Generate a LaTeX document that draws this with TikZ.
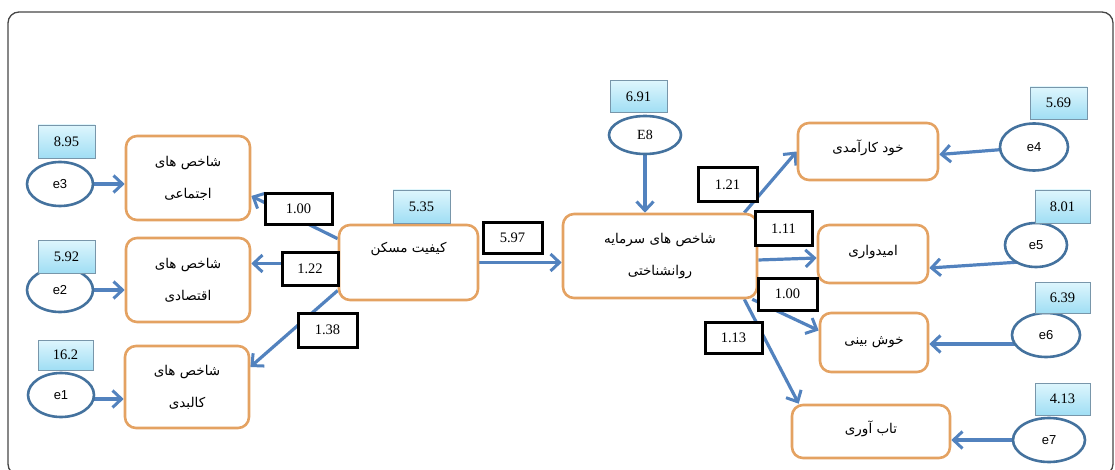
\documentclass[tikz,border=0pt]{standalone}
\usepackage{fontspec}
\setmainfont{Liberation Serif}
\newfontfamily\fa[Script=Arabic]{DejaVu Sans}
\newfontfamily\lsans{Liberation Sans}
\TeXXeTstate=1
\usetikzlibrary{arrows.meta,shapes.geometric,backgrounds}
\definecolor{boxorange}{RGB}{228,162,98}
\definecolor{arrblue}{RGB}{82,130,190}
\definecolor{ellblue}{RGB}{68,114,158}
\definecolor{tagtop}{RGB}{222,246,253}
\definecolor{tagbot}{RGB}{160,222,244}
\definecolor{tagline}{RGB}{120,150,170}
\definecolor{framegray}{RGB}{70,70,70}
\newcommand\fatext[1]{\beginR #1\endR}
\begin{document}
\begin{tikzpicture}[x=1pt,y=-1pt,
  obox/.style={draw=boxorange,line width=2.6pt,rounded corners=11pt,fill=white,
    align=center,inner sep=2pt,font=\fa\fontsize{13.5}{32}\selectfont},
  errell/.style={ellipse,draw=ellblue,line width=2.6pt,fill=white,inner sep=0pt,
    font=\lsans\fontsize{13}{15}\selectfont},
  tagbox/.style={draw=tagline,line width=0.8pt,top color=tagtop,bottom color=tagbot,
    inner sep=0pt,minimum width=57pt,minimum height=32pt,
    font=\fontsize{14.5}{16}\selectfont},
  coef/.style={draw=black,line width=3pt,fill=white,inner sep=0pt,
    minimum height=31pt,font=\fontsize{14.5}{16}\selectfont},
  arr/.style={draw=arrblue,line width=3.2pt,-{Straight Barb[length=9pt,width=17pt,line width=3pt]}}
]
\useasboundingbox (0,0) rectangle (1115,470);
\begin{scope}
\clip (0,0) rectangle (1115,470);
\draw[framegray,line width=1.3pt,rounded corners=11pt] (8,12) rectangle (1113,475);
\end{scope}

% left boxes
\node[obox,minimum width=124pt,minimum height=84pt] (b3) at (188,178) {\fatext{شاخص های}\\\fatext{اجتماعی}};
\node[obox,minimum width=124pt,minimum height=84pt] (b2) at (188,280) {\fatext{شاخص های}\\\fatext{اقتصادی}};
\node[obox,minimum width=124pt,minimum height=82pt] (b1) at (187,387) {\fatext{شاخص های}\\\fatext{کالبدی}};
% central boxes
\node[obox,minimum width=139pt,minimum height=75pt,text depth=30pt] (q) at (408.5,262.5) {\fatext{کیفیت مسکن}};
\node[obox,minimum width=194pt,minimum height=84pt] (m) at (660,256) {\fatext{شاخص های سرمایه}\\\fatext{روانشناختی}};
% right boxes
\node[obox,minimum width=140pt,minimum height=57pt,text depth=10pt] (r4) at (868,151.5) {\fatext{خود کارآمدی}};
\node[obox,minimum width=110pt,minimum height=58pt,text depth=8pt] (r5) at (873,254) {\fatext{امیدواری}};
\node[obox,minimum width=108pt,minimum height=59pt] (r6) at (874,342.5) {\fatext{خوش بینی}};
\node[obox,minimum width=158pt,minimum height=53pt,text depth=8pt] (r7) at (871,431.5) {\fatext{تاب آوری}};

% error ellipses
\node[errell,minimum width=66pt,minimum height=44pt] (e3) at (60,184) {e3};
\node[errell,minimum width=66pt,minimum height=44pt] (e2) at (60,290) {e2};
\node[errell,minimum width=66pt,minimum height=44pt] (e1) at (61,395) {e1};
\node[errell,minimum width=72pt,minimum height=38pt,font=\fontsize{14}{16}\selectfont] (E8) at (645,135) {E8};
\node[errell,minimum width=68pt,minimum height=47pt] (e4) at (1034,147) {e4};
\node[errell,minimum width=62pt,minimum height=44pt] (e5) at (1036,245) {e5};
\node[errell,minimum width=68pt,minimum height=44pt] (e6) at (1046,335) {e6};
\node[errell,minimum width=72pt,minimum height=44pt] (e7) at (1049,440) {e7};

% variance tags
\node[tagbox,minimum height=33pt] (t3) at (66.5,141.5) {8.95};
\node[tagbox,minimum height=33pt] (t2) at (66.5,256.5) {5.92};
\node[tagbox,minimum width=55pt,minimum height=30pt] (t1) at (65.5,355) {16.2};
\node[tagbox,minimum height=33pt] (tq) at (421.5,206.5) {5.35};
\node[tagbox] (tE) at (638.5,96.5) {6.91};
\node[tagbox] (t4) at (1058.5,103) {5.69};
\node[tagbox,minimum width=55pt,minimum height=33pt] (t5) at (1062.5,206.5) {8.01};
\node[tagbox,minimum width=55pt,minimum height=31pt] (t6) at (1062.5,297.5) {6.39};
\node[tagbox,minimum width=55pt] (t7) at (1062.5,399) {4.13};

% arrows
\begin{pgfonlayer}{background}
\draw[arr] (e3.center) -- (e3.center -| b3.west);
\draw[arr] (e2.center) -- (e2.center -| b2.west);
\draw[arr] ([yshift=-4pt]e1.center) -- ([yshift=-4pt]e1.center -| b1.west);
\draw[arr] ([yshift=-15pt]q.north west) -- ([yshift=-18pt]b3.east);
\draw[arr] ([yshift=-1pt]q.west) -- ([yshift=-1pt]q.west -| b2.east);
\draw[arr] ([yshift=-28pt]q.west) -- ([yshift=20pt]b1.east);
\draw[arr] (q.east) -- (q.east -| m.west);
\draw[arr] (E8.center) -- (E8.center |- m.north);
\draw[arr] ([xshift=-14pt]m.north east) -- (r4.west);
\draw[arr] ([yshift=-4pt]m.east) -- ([yshift=-4pt]r5.west);
\draw[arr] ([xshift=-6pt]m.south east) -- ([yshift=12pt]r6.west);
\draw[arr] ([xshift=-14pt]m.south east) -- ([xshift=8pt]r7.north west);
\draw[arr] (e4.center) -- ([yshift=-3pt]r4.east);
\draw[arr] ([xshift=-16pt,yshift=-17pt]e5.center) -- ([yshift=-14pt]r5.east);
\draw[arr] ([yshift=-9pt]e6.center) -- ([yshift=-9pt]e6.center -| r6.east);
\draw[arr] (e7.center) -- (e7.center -| r7.east);
\end{pgfonlayer}

% coefficient labels
\node[coef,minimum width=67pt] (c1) at (298.5,209) {1.00};
\node[coef,minimum width=56pt,minimum height=33pt] (c2) at (310,268.5) {1.22};
\node[coef,minimum width=59pt,minimum height=34pt] (c3) at (327.5,330) {1.38};
\node[coef,minimum width=59pt,minimum height=30pt] (c4) at (512.5,238) {5.97};
\node[coef,minimum width=59pt,minimum height=34pt] (c5) at (727.5,185) {1.21};
\node[coef,minimum width=57pt,minimum height=33pt] (c6) at (783.5,228.5) {1.11};
\node[coef,minimum width=59pt,minimum height=32pt] (c7) at (787.5,294) {1.00};
\node[coef,minimum width=57pt,minimum height=31pt] (c8) at (733.5,337.5) {1.13};
\end{tikzpicture}
\end{document}
